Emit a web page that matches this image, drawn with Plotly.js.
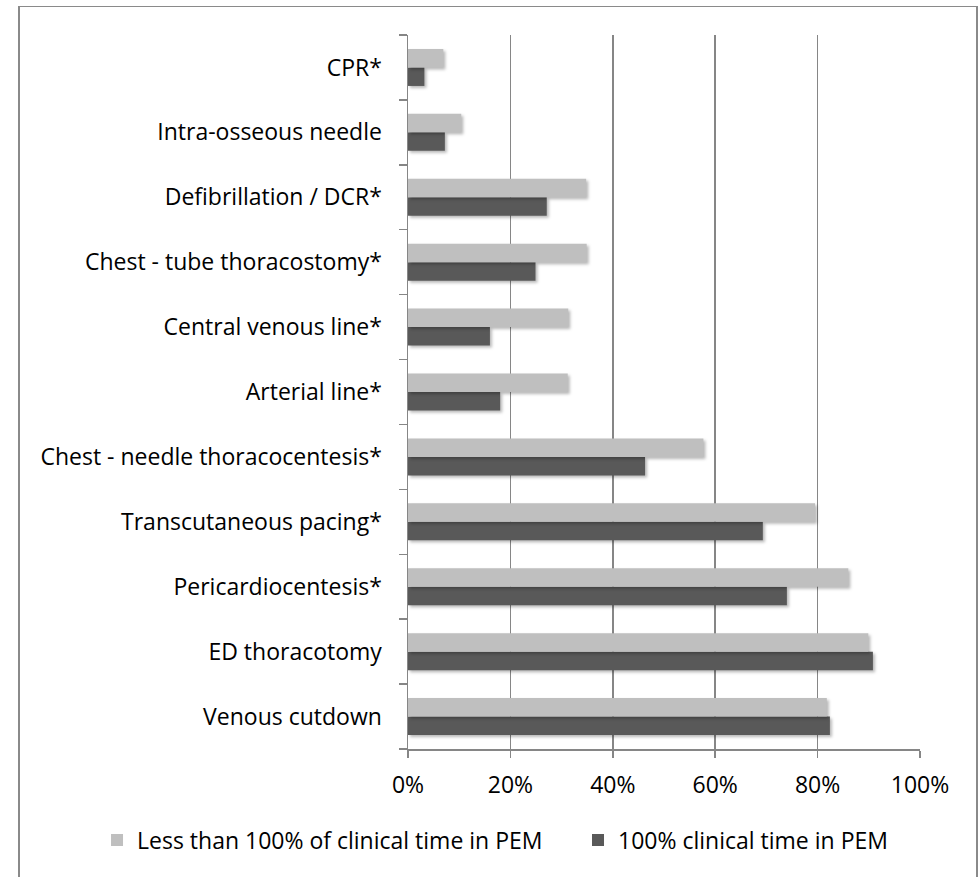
<!DOCTYPE html>
<html>
<head>
<meta charset="utf-8">
<script src="https://cdn.plot.ly/plotly-3.0.1.min.js"></script>
<style>
  html, body { margin: 0; padding: 0; background: #fff; }
  #frame {
    position: absolute; left: 18px; top: 6px; width: 960px; height: 900px;
    border-left: 2px solid #8a8a8a; border-top: 1px solid #8a8a8a; border-right: 2px solid #8a8a8a;
    box-sizing: border-box; pointer-events: none;
  }
  #chart { position: absolute; left: 0; top: 0; width: 980px; height: 877px; }
  .trace.bars path { filter: drop-shadow(2px 2px 1.5px rgba(0,0,0,0.28)); }
</style>
</head>
<body>
<div id="chart"></div>
<div id="frame"></div>
<script>
// Procedures, listed bottom to top as they appear on the axis
const procedures = [
  'Venous cutdown',
  'ED thoracotomy',
  'Pericardiocentesis*',
  'Transcutaneous pacing*',
  'Chest - needle thoracocentesis*',
  'Arterial line*',
  'Central venous line*',
  'Chest - tube thoracostomy*',
  'Defibrillation / DCR*',
  'Intra-osseous needle',
  'CPR*'
];

// Share of respondents (%) by clinical time in PEM
const partTimePEM = [81.8, 89.9, 86.0, 79.5, 57.7, 31.2, 31.3, 34.9, 34.8, 10.4, 6.9];
const fullTimePEM = [82.4, 90.8, 74.0, 69.3, 46.3, 18.0, 16.0, 24.9, 27.1, 7.2, 3.2];

const seriesNames = ['Less than 100% of clinical time in PEM', '100% clinical time in PEM'];
const xTicks = [0, 20, 40, 60, 80, 100];
const xTickText = ['0%', '20%', '40%', '60%', '80%', '100%'];

const traces = [
  {
    type: 'bar', orientation: 'h', name: seriesNames[1], legend: 'legend2',
    y: procedures, x: fullTimePEM,
    marker: { color: '#595959' }, hoverinfo: 'x+y'
  },
  {
    type: 'bar', orientation: 'h', name: seriesNames[0], legend: 'legend',
    y: procedures, x: partTimePEM,
    marker: { color: '#bfbfbf' }, hoverinfo: 'x+y'
  }
];

const legendBase = {
  orientation: 'h', xref: 'container', yref: 'container',
  y: 0.042, yanchor: 'middle', itemwidth: 30,
  bgcolor: 'rgba(0,0,0,0)', font: { size: 23, color: '#000' }
};

const layout = {
  width: 980, height: 877,
  margin: { l: 408, r: 60, t: 35, b: 128 },
  paper_bgcolor: '#fff', plot_bgcolor: '#fff',
  font: { family: '"Open Sans", "Noto Sans", sans-serif', size: 23, color: '#000' },
  barmode: 'group', bargap: 0.43, bargroupgap: 0,
  xaxis: {
    range: [0, 100], tickvals: xTicks, ticktext: xTickText,
    showgrid: true, gridcolor: '#868686', gridwidth: 1.5,
    zeroline: false, showline: true, linecolor: '#868686', linewidth: 1.5,
    ticks: 'outside', ticklen: 7, tickcolor: '#868686', tickwidth: 1.5,
    ticklabelstandoff: 8, tickfont: { size: 23 }, fixedrange: true
  },
  yaxis: {
    type: 'category', categoryorder: 'array', categoryarray: procedures,
    showline: true, linecolor: '#868686', linewidth: 1.5,
    ticks: 'outside', tickson: 'boundaries', ticklen: 8, tickcolor: '#868686', tickwidth: 1.5,
    ticklabelstandoff: 20, showgrid: false, zeroline: false,
    tickfont: { size: 23 }, fixedrange: true
  },
  showlegend: true,
  legend: Object.assign({}, legendBase, { x: 0.099 }),
  legend2: Object.assign({}, legendBase, { x: 0.5898 })
};

Plotly.newPlot('chart', traces, layout, { displayModeBar: false, staticPlot: true });
</script>
</body>
</html>
